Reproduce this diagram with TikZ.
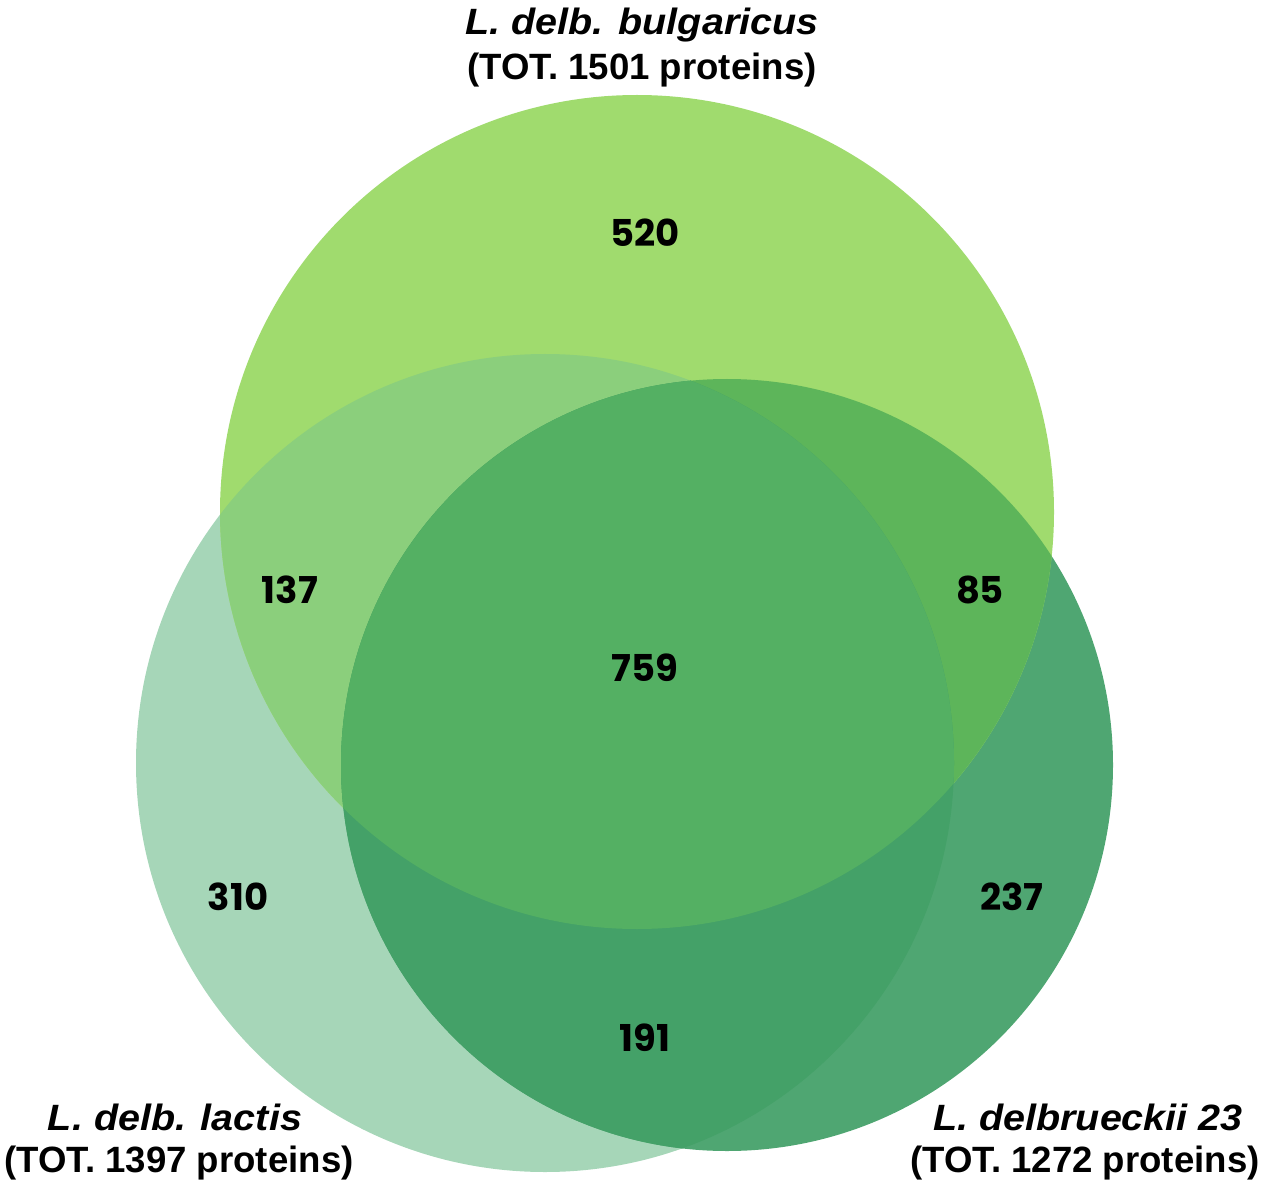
\documentclass[tikz,border=0pt]{standalone}
\usepackage{fontspec}
\setmainfont{Liberation Sans}
\newfontfamily\numfont{Poppins}
\definecolor{cT}{HTML}{A0DB6E}
\definecolor{cL}{HTML}{A6D6B8}
\definecolor{cR}{HTML}{4FA672}
\definecolor{cTL}{HTML}{8BCF7C}
\definecolor{cTR}{HTML}{5DB55A}
\definecolor{cLR}{HTML}{44A168}
\definecolor{cC}{HTML}{54B063}
\newcommand{\widelbl}[1]{\scalebox{1.08}[1]{\itshape #1}}
\tikzset{
  num/.style={inner sep=0pt, font=\numfont\bfseries\fontsize{18.5}{22}\selectfont},
  lbl/.style={anchor=base, inner sep=0pt, font=\bfseries\fontsize{18.3}{22}\selectfont}
}
\begin{document}
\begin{tikzpicture}[x=0.5pt,y=-0.5pt]
\useasboundingbox (0,0) rectangle (1268,1192);
\coordinate (cTop) at (637,512);
\coordinate (cLeft) at (545,763);
\coordinate (cRight) at (727,765);
% base circles
\fill[cL] (cLeft) circle (409);
\fill[cR] (cRight) circle (386);
\fill[cT] (cTop) circle (417);
% pairwise with top
\begin{scope}
  \clip (cTop) circle (417);
  \fill[cTL] (cLeft) circle (409);
  \fill[cTR] (cRight) circle (386);
\end{scope}
% left-right and centre
\begin{scope}
  \clip (cLeft) circle (409);
  \fill[cLR] (cRight) circle (386);
  \clip (cRight) circle (386);
  \fill[cC] (cTop) circle (417);
\end{scope}
% numbers
\node[num] (n520) at (645,233) {520};
\node[num] (n137) at (290,590) {137};
\node[num] (n85)  at (980,590) {85};
\node[num] (n759) at (645,668) {759};
\node[num] (n310) at (238,897) {310};
\node[num] (n237) at (1012,897) {237};
\node[num] (n191) at (645,1038) {191};
% labels
\node[lbl] (tA1) at (642,35) {\widelbl{L. delb. bulgaricus}};
\node[lbl] (tA2) at (642,80) {(TOT. 1501 proteins)};
\node[lbl] (tB1) at (175,1130) {\widelbl{L. delb. lactis}};
\node[lbl] (tB2) at (179,1172) {(TOT. 1397 proteins)};
\node[lbl] (tC1) at (1088,1130) {\widelbl{L. delbrueckii 23}};
\node[lbl] (tC2) at (1085,1172) {(TOT. 1272 proteins)};
\end{tikzpicture}
\end{document}
